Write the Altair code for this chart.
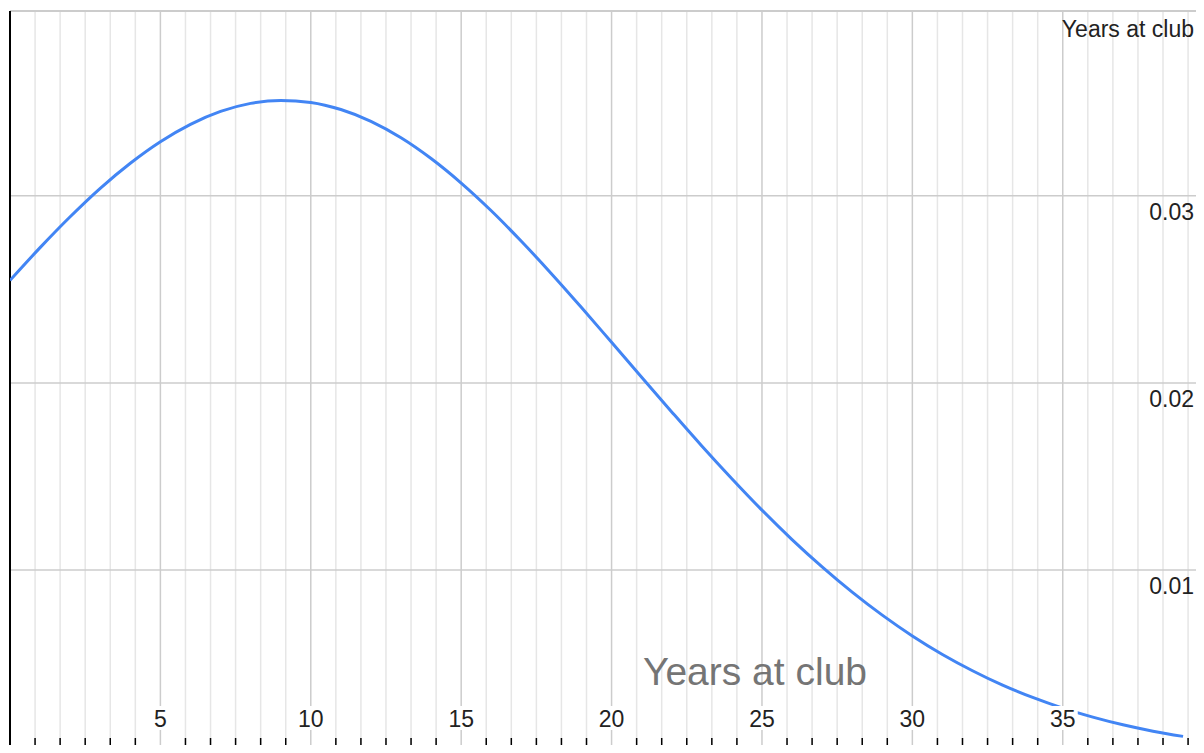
import altair as alt
import pandas as pd

# ---- data ----
years = list(range(0, 40))
density = [0.02548, 0.02723, 0.02888, 0.03040, 0.03174, 0.03289, 0.03382, 0.03451,
           0.03494, 0.03510, 0.03499, 0.03461, 0.03398, 0.03310, 0.03199, 0.03068,
           0.02920, 0.02757, 0.02584, 0.02403, 0.02217, 0.02030, 0.01845, 0.01663,
           0.01488, 0.01320, 0.01163, 0.01017, 0.00882, 0.00759, 0.00648, 0.00549,
           0.00462, 0.00385, 0.00319, 0.00262, 0.00214, 0.00173, 0.00139, 0.00111]

major_x = [5, 10, 15, 20, 25, 30, 35]
x_labels = ["5", "10", "15", "20", "25", "30", "35"]
minor_x = [round(i * 5 / 6, 4) for i in range(1, 48) if i % 6 != 0]
y_grid = [0.01, 0.02, 0.03]
y_labels = ["0.01", "0.02", "0.03"]
title_text = ["Years at club"]
legend_text = ["Years at club"]

# ---- layout (kept inside the 1188x737 page area) ----
W, H = 1186, 735
FONT = "Liberation Sans"
xs = alt.Scale(domain=[0, 39.43], nice=False, zero=False)
ys = alt.Scale(domain=[0.00065, 0.03993], nice=False, zero=False)


def X(f):
    return alt.X(f, type="quantitative", scale=xs, axis=None)


def Y(f):
    return alt.Y(f, type="quantitative", scale=ys, axis=None)


curve_df = pd.DataFrame({"x": years, "y": density})
minor_df = pd.DataFrame({"x": minor_x})
major_df = pd.DataFrame({"x": major_x, "label": x_labels})
ygrid_df = pd.DataFrame({"y": y_grid, "label": y_labels})
zero_df = pd.DataFrame({"x": [0]})
title_df = pd.DataFrame({"t": title_text})
legend_df = pd.DataFrame({"t": legend_text})

minor_grid = alt.Chart(minor_df).mark_rule(color="#e6e6e6", strokeWidth=1.5).encode(x=X("x"))
major_grid = alt.Chart(major_df).mark_rule(color="#cccccc", strokeWidth=1.5).encode(x=X("x"))
h_grid = alt.Chart(ygrid_df).mark_rule(color="#cccccc", strokeWidth=1.5).encode(y=Y("y"))
top_border = alt.Chart(zero_df).mark_rule(color="#cccccc", strokeWidth=2).encode(
    x=alt.value(0), x2=alt.value(W), y=alt.value(1))
axis_line = alt.Chart(zero_df).mark_rule(color="black", strokeWidth=2).encode(
    x=X("x"), y=alt.value(1), y2=alt.value(H))
minor_ticks = alt.Chart(minor_df).mark_rule(color="black", strokeWidth=1.5).encode(
    x=X("x"), y=alt.value(H - 7), y2=alt.value(H))

curve = alt.Chart(curve_df).mark_line(
    color="#4285F4", strokeWidth=3, interpolate="monotone", clip=True
).encode(x=X("x"), y=Y("y"))

label_bg = alt.Chart(major_df).mark_point(
    shape="M-1,-0.8L1,-0.8L1,0.8L-1,0.8Z", filled=True, fill="white",
    opacity=1, strokeWidth=0, size=900
).encode(x=X("x"), y=alt.value(708))

x_text = alt.Chart(major_df).mark_text(
    font=FONT, fontSize=23, color="#222222", align="center", baseline="alphabetic"
).encode(x=X("x"), y=alt.value(717), text="label:N")

y_text = alt.Chart(ygrid_df).mark_text(
    font=FONT, fontSize=23, color="#222222", align="right", baseline="alphabetic", dy=24
).encode(x=alt.value(W - 2), y=Y("y"), text="label:N")

title = alt.Chart(title_df).mark_text(
    font=FONT, fontSize=39, color="#757575", align="center", baseline="alphabetic"
).encode(x=alt.value(745), y=alt.value(675), text="t:N")

legend = alt.Chart(legend_df).mark_text(
    font=FONT, fontSize=23, color="#222222", align="right", baseline="alphabetic"
).encode(x=alt.value(W - 2), y=alt.value(27), text="t:N")

chart = alt.layer(
    minor_grid, major_grid, h_grid, top_border, axis_line, minor_ticks,
    curve, label_bg, x_text, y_text, title, legend
).properties(
    width=W, height=H,
    autosize=alt.AutoSizeParams(type="none"),
    padding={"left": 2, "top": 2, "right": 0, "bottom": 0},
).configure_view(stroke=None)

chart.save("out.html", embed_options={"renderer": "svg", "actions": False})
